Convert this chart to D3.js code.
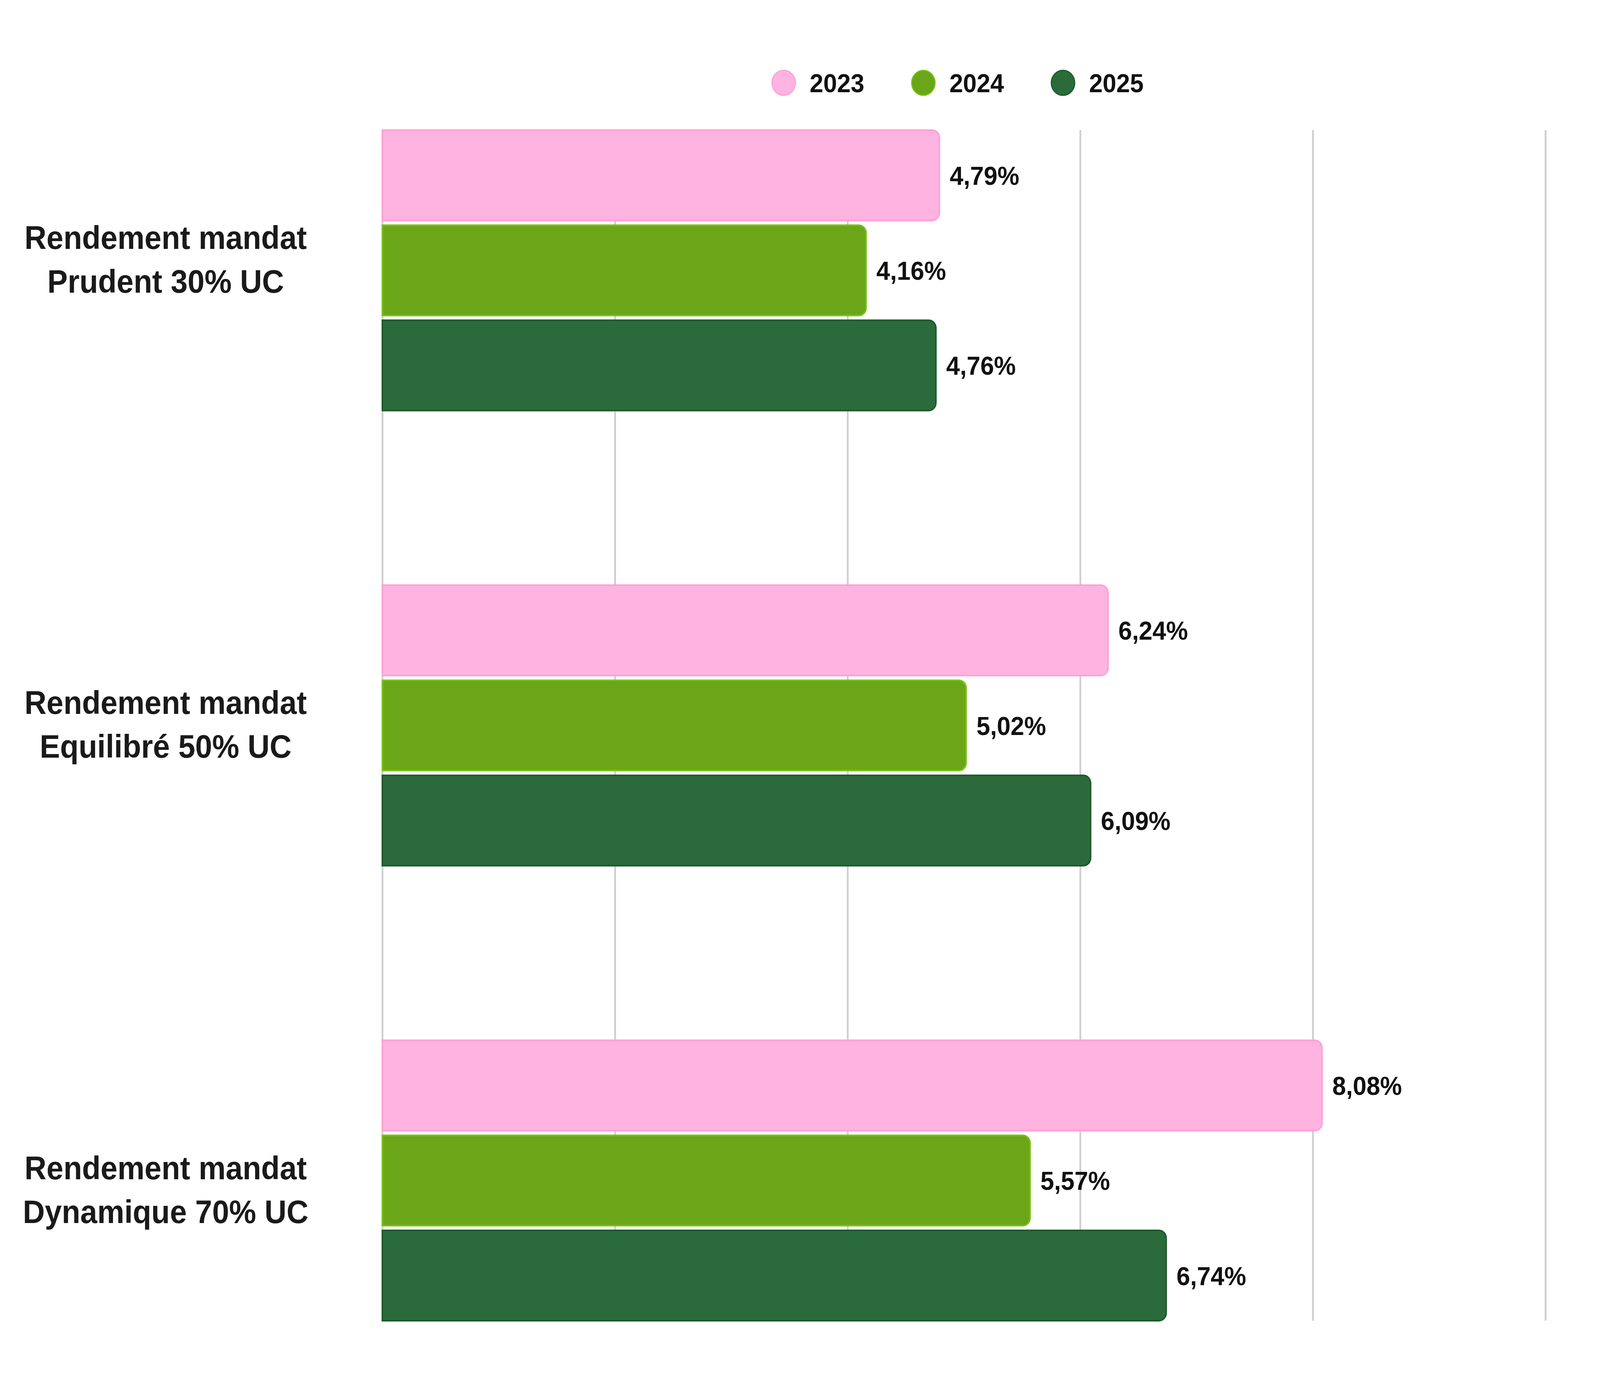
<!DOCTYPE html>
<html>
<head>
<meta charset="utf-8">
<script src="https://cdn.jsdelivr.net/npm/d3@7"></script>
<style>
  html, body { margin: 0; padding: 0; background: #ffffff; overflow: hidden; width: 100%; height: 100%; }
  svg { display: block; width: 100vw; height: 100vh; }
</style>
</head>
<body>
<svg id="chart" viewBox="0 0 4365 3524" preserveAspectRatio="none"></svg>
<script>
// ---- Data ----
const categories = ["Prudent", "Equilibre", "Dynamique"];
const categoryLines = [
  ["Rendement mandat", "Prudent 30% UC"],
  ["Rendement mandat", "Equilibré 50% UC"],
  ["Rendement mandat", "Dynamique 70% UC"]
];
const years = ["2023", "2024", "2025"];
const values2023 = [4.79, 6.24, 8.08];
const values2024 = [4.16, 5.02, 5.57];
const values2025 = [4.76, 6.09, 6.74];
const xTicks = [0, 2, 4, 6, 8, 10];

const seriesValues = [values2023, values2024, values2025];
const fills = ["#ffb3e0", "#6aa618", "#2b6a3b"];
const strokes = ["#ff9fd5", "#7cc21c", "#1d5a2b"];

// ---- Layout ----
const plotLeft = 1043, plotRight = 4216, plotTop = 333, plotBottom = 3380;
const font = "'Liberation Sans', Arial, Helvetica, sans-serif";

const svg = d3.select("#chart");

const x = d3.scaleLinear().domain([0, 10]).range([plotLeft, plotRight]);
const y = d3.scaleBand().domain(categories).range([plotTop, plotBottom])
  .paddingInner(0.3837).paddingOuter(0);
const ySub = d3.scaleBand().domain(years).range([0, y.bandwidth()])
  .paddingInner(0.05).paddingOuter(0);
const labelY = d3.scalePoint().domain(categories).range([663, 3044]);

const locale = d3.formatLocale({ decimal: ",", thousands: " ", grouping: [3], currency: ["", "€"] });
const fmt = v => locale.format(".2f")(v) + "%";

// ---- Gridlines ----
const gridAxis = d3.axisBottom(x).tickValues(xTicks)
  .tickSize(-(plotBottom - plotTop)).tickFormat("");
const gridG = svg.append("g")
  .attr("transform", `translate(0,${plotBottom})`)
  .call(gridAxis);
gridG.select(".domain").remove();
gridG.selectAll(".tick line")
  .attr("stroke", "#cfcfcf")
  .attr("stroke-width", 5);

// ---- Bars ----
const rows = [];
categories.forEach((c, ci) => {
  years.forEach((yr, si) => {
    rows.push({ cat: c, year: yr, si, value: seriesValues[si][ci] });
  });
});

function barPath(d) {
  const x0 = x(0), x1 = x(d.value);
  const y0 = y(d.cat) + ySub(d.year);
  const h = ySub.bandwidth();
  const r = 20;
  const p = d3.path();
  p.moveTo(x0, y0);
  p.lineTo(x1 - r, y0);
  p.arcTo(x1, y0, x1, y0 + r, r);
  p.lineTo(x1, y0 + h - r);
  p.arcTo(x1, y0 + h, x1 - r, y0 + h, r);
  p.lineTo(x0, y0 + h);
  p.closePath();
  return p.toString();
}

svg.append("g").selectAll("path")
  .data(rows)
  .join("path")
  .attr("d", barPath)
  .attr("fill", d => fills[d.si])
  .attr("stroke", d => strokes[d.si])
  .attr("stroke-width", 4);

// ---- Value labels ----
svg.append("g").selectAll("text")
  .data(rows)
  .join("text")
  .attr("x", d => x(d.value) + 28)
  .attr("y", d => y(d.cat) + ySub(d.year) + ySub.bandwidth() / 2)
  .attr("dy", "0.36em")
  .attr("font-family", font)
  .attr("font-weight", "bold")
  .attr("font-size", 67)
  .attr("fill", "#111111")
  .text(d => fmt(d.value));

// ---- Category labels ----
const catG = svg.append("g");
categories.forEach((c, ci) => {
  const cy = labelY(c);
  const t = catG.append("text")
    .attr("x", 452)
    .attr("y", cy)
    .attr("text-anchor", "middle")
    .attr("font-family", font)
    .attr("font-weight", "bold")
    .attr("font-size", 83)
    .attr("fill", "#1a1a1a");
  categoryLines[ci].forEach((line, li) => {
    t.append("tspan")
      .attr("x", 452)
      .attr("y", cy + (li - 0.5) * 112)
      .attr("dy", "0.36em")
      .text(line);
  });
});

// ---- Legend ----
const legendX = d3.scalePoint().domain(years).range([2138, 2900]);
const legendY = 212;
const lg = svg.append("g").selectAll("g")
  .data(years)
  .join("g")
  .attr("transform", d => `translate(${legendX(d)},${legendY})`);
lg.append("circle")
  .attr("r", 32)
  .attr("fill", (d, i) => fills[i])
  .attr("stroke", (d, i) => strokes[i])
  .attr("stroke-width", 3);
lg.append("text")
  .attr("x", 71)
  .attr("dy", "0.36em")
  .attr("font-family", font)
  .attr("font-weight", "bold")
  .attr("font-size", 67)
  .attr("fill", "#111111")
  .text(d => d);
</script>
</body>
</html>
